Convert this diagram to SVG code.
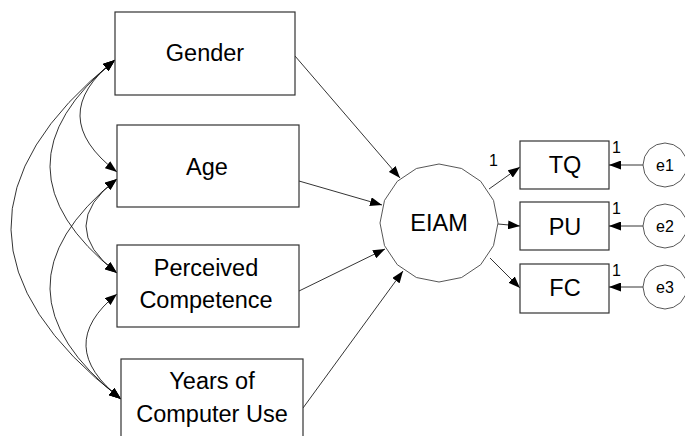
<svg xmlns="http://www.w3.org/2000/svg" xmlns:xlink="http://www.w3.org/1999/xlink" width="685" height="436" viewBox="0 0 685 436">
<style>
.box{fill:#fff;stroke:#333;stroke-width:1.2}
.oval{fill:#fff;stroke:#444;stroke-width:0.9}
.t{font-family:"Liberation Sans",Arial,sans-serif;font-size:23.5px;fill:#000;text-anchor:middle}
.s{font-family:"Liberation Sans",Arial,sans-serif;font-size:16px;fill:#000}
.e{font-family:"Liberation Sans",Arial,sans-serif;font-size:16px;fill:#000;text-anchor:middle}
.ln{fill:none;stroke:#000;stroke-width:0.8}
.arr{marker-end:url(#ah)}
.cov{marker-start:url(#ah);marker-end:url(#ah)}
</style>
<defs>
<marker id="ah" markerUnits="userSpaceOnUse" markerWidth="13" markerHeight="9" refX="12" refY="4.5" orient="auto-start-reverse">
<path d="M0,0 L12,4.5 L0,9 z" fill="#000"/>
</marker>
<polygon id="c22" points="0,-22 8.4,-20.3 15.6,-15.6 20.3,-8.4 22,0 20.3,8.4 15.6,15.6 8.4,20.3 0,22 -8.4,20.3 -15.6,15.6 -20.3,8.4 -22,0 -20.3,-8.4 -15.6,-15.6 -8.4,-20.3"/>
</defs>
<rect width="685" height="436" fill="#fff"/>
<g id="connectors">
<path class="ln arr" d="M295,56 L400,178"/>
<path class="ln arr" d="M299,181 L382,205"/>
<path class="ln arr" d="M299,291 L385,249"/>
<path class="ln arr" d="M303,408 L403,271"/>
<path class="ln arr" d="M489,189 L520,167"/>
<path class="ln arr" d="M498,224 L520,226"/>
<path class="ln arr" d="M490,258 L520,288"/>
<path class="ln arr" d="M643,165 L609,165"/>
<path class="ln arr" d="M643,226 L609,226"/>
<path class="ln arr" d="M643,287 L609,287"/>
<path class="ln cov" d="M115,60 Q44,116 117,172"/>
<path class="ln cov" d="M115,60 Q-16,167 117,273"/>
<path class="ln cov" d="M115,60 Q-96,230 121,399"/>
<path class="ln cov" d="M117,179 Q55,226 117,273"/>
<path class="ln cov" d="M117,179 Q-19,289 121,399"/>
<path class="ln cov" d="M117,294 Q53,346 121,399"/>
</g>
<g id="gender"><rect class="box" x="115" y="12" width="180" height="83"/><text class="t" x="205" y="61">Gender</text></g>
<g id="age"><rect class="box" x="117" y="125" width="182" height="82"/><text class="t" x="207" y="175">Age</text></g>
<g id="perceived"><rect class="box" x="117" y="245" width="182" height="82"/><text class="t" x="206" y="276">Perceived</text><text class="t" x="206" y="308">Competence</text></g>
<g id="years"><rect class="box" x="121" y="359" width="182" height="90"/><text class="t" x="212" y="389">Years of</text><text class="t" x="212" y="422">Computer Use</text></g>
<g id="eiam"><polygon class="oval" points="439,164 461.6,168.5 480.7,181.3 493.5,200.4 498,223 493.5,245.6 480.7,264.7 461.6,277.5 439,282 416.4,277.5 397.3,264.7 384.5,245.6 380,223 384.5,200.4 397.3,181.3 416.4,168.5"/><text class="t" x="439" y="231">EIAM</text></g>
<g id="tq"><rect class="box" x="520" y="141" width="89" height="48"/><text class="t" x="565" y="173">TQ</text></g>
<g id="pu"><rect class="box" x="520" y="202" width="89" height="48"/><text class="t" x="565" y="235">PU</text></g>
<g id="fc"><rect class="box" x="520" y="264" width="89" height="49"/><text class="t" x="565" y="296">FC</text></g>
<g id="e1"><use xlink:href="#c22" class="oval" x="665" y="165"/><text class="e" x="665" y="171">e1</text></g>
<g id="e2"><use xlink:href="#c22" class="oval" x="665" y="226"/><text class="e" x="665" y="232">e2</text></g>
<g id="e3"><use xlink:href="#c22" class="oval" x="665" y="287"/><text class="e" x="665" y="293">e3</text></g>
<g id="labels">
<text class="s" x="489" y="166">1</text>
<text class="s" x="612" y="153">1</text>
<text class="s" x="612" y="214">1</text>
<text class="s" x="612" y="276">1</text>
</g>
</svg>
